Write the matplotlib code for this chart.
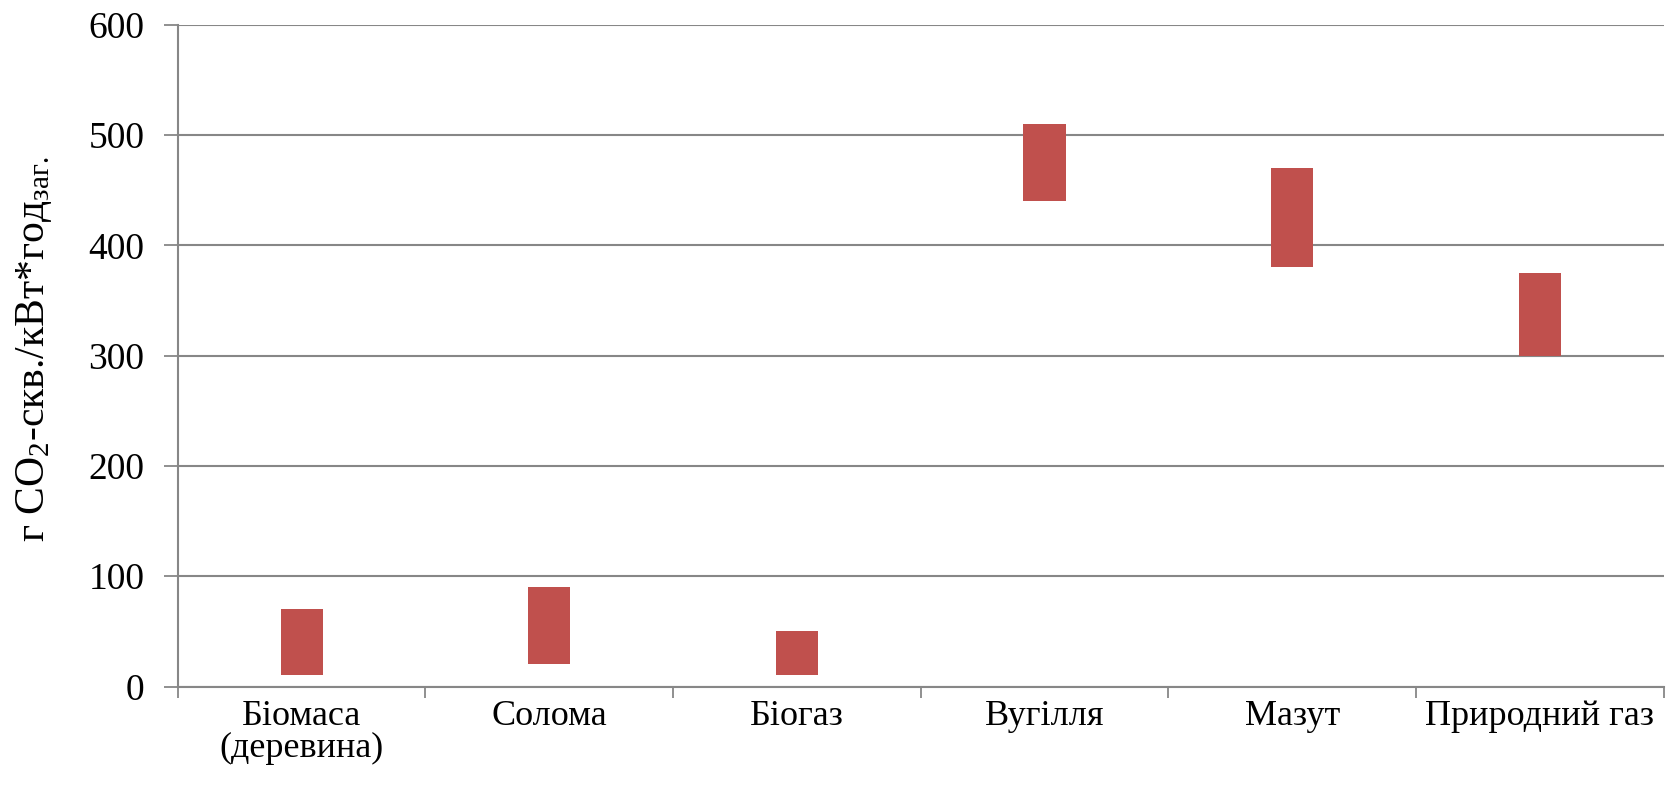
import matplotlib
matplotlib.use("Agg")
import matplotlib.pyplot as plt
import numpy as np

# Emission ranges per fuel, g CO2-eq per kWh
fuels = ["Біомаса\n(деревина)", "Солома", "Біогаз", "Вугілля", "Мазут", "Природний газ"]
low = [10, 20, 10, 440, 380, 300]
high = [70, 90, 50, 510, 470, 375]

plt.rcParams['font.family'] = ['Liberation Serif', 'DejaVu Serif']
plt.rcParams['mathtext.fontset'] = 'custom'
plt.rcParams['mathtext.rm'] = 'Liberation Serif'
plt.rcParams['mathtext.it'] = 'Liberation Serif:italic'

grid_color = "#878787"

fig = plt.figure(figsize=(16.77, 8.02), dpi=100)
ax = fig.add_axes([0.106, 0.144, 0.886, 0.825])

x = np.arange(len(fuels))
heights = np.array(high) - np.array(low)
ax.bar(x, heights, bottom=low, width=0.17, color="#C0504D", zorder=3)

ax.set_xlim(-0.5, len(fuels) - 0.5)
ax.set_ylim(0, 600)
ax.set_yticks(np.arange(0, 601, 100))
ax.yaxis.grid(True, color=grid_color, linewidth=1.5)
ax.set_axisbelow(True)

# category boundaries carry the tick marks, labels sit at centres
ax.set_xticks(np.arange(-0.5, len(fuels)), labels=[""] * (len(fuels) + 1))
ax.set_xticks(x, labels=fuels, minor=True)
ax.tick_params(axis="x", which="major", direction="out", length=8, width=1.3, color=grid_color)
ax.tick_params(axis="x", which="minor", length=0, pad=10, labelsize=26)
ax.tick_params(axis="y", direction="out", length=10, width=1.3, color=grid_color, labelsize=27, pad=14)
for lbl in ax.get_xticklabels(minor=True):
    lbl.set_linespacing(0.95)

for side in ["top", "right"]:
    ax.spines[side].set_visible(False)
for side in ["left", "bottom"]:
    ax.spines[side].set_color(grid_color)
    ax.spines[side].set_linewidth(1.5)

ax.set_ylabel(r"г CO$_2$-скв./кВт*год$_{\mathrm{заг.}}$", fontsize=30)
ax.yaxis.set_label_coords(-0.083, 0.51)

fig.savefig("out.png", dpi=100)
